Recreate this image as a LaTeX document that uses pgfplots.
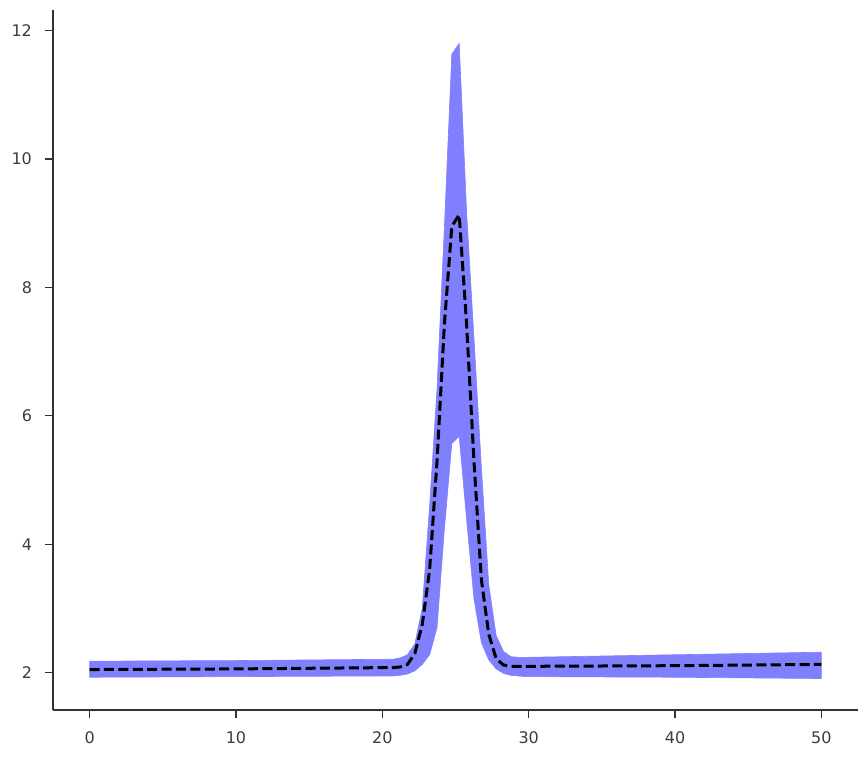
\documentclass[border=0pt]{standalone}
\usepackage{fontspec}
\setmainfont{DejaVu Sans}
\usepackage{pgfplots}
\usepackage{pgfplotstable}
\pgfplotsset{compat=1.18}
\definecolor{bandblue}{RGB}{128,128,255}
\definecolor{spine}{RGB}{51,51,51}
\definecolor{ticktext}{RGB}{60,60,60}
\pgfplotstableread{
x mean
0 2.05
10.101 2.06
20.202 2.08
20.707 2.08
21.212 2.09
21.717 2.13
22.222 2.30
22.727 2.75
23.232 3.60
23.737 5.29
24.242 7.43
24.747 8.95
25.253 9.13
25.758 7.43
26.263 5.29
26.768 3.45
27.273 2.60
27.778 2.22
28.283 2.12
28.788 2.10
29.293 2.10
29.798 2.10
39.899 2.11
50 2.13
}\meantable
% band outline: upper bound left to right, then lower bound right to left
\pgfplotstableread{
x y
0 2.18
10.101 2.19
20.202 2.21
20.707 2.21
21.212 2.23
21.717 2.28
22.222 2.45
22.727 3.00
23.232 4.60
23.737 6.42
24.242 8.94
24.747 11.63
25.253 11.80
25.758 9.18
26.263 7.20
26.768 5.20
27.273 3.37
27.778 2.58
28.283 2.33
28.788 2.25
29.293 2.24
29.798 2.24
39.899 2.28
50 2.32
50 1.91
39.899 1.93
29.798 1.94
29.293 1.95
28.788 1.96
28.283 1.99
27.778 2.06
27.273 2.20
26.768 2.47
26.263 3.15
25.758 4.39
25.253 5.68
24.747 5.57
24.242 4.24
23.737 2.70
23.232 2.28
22.727 2.13
22.222 2.03
21.717 1.98
21.212 1.96
20.707 1.95
20.202 1.95
10.101 1.94
0 1.93
}\bandtable
\begin{document}
\begin{tikzpicture}
\path (-26.5pt,-23pt) rectangle (407.5pt,355pt);
\begin{axis}[
  at={(0,0)}, anchor=south west,
  scale only axis, width=402.5pt, height=350pt,
  xmin=-2.5, xmax=52.5, ymin=1.42, ymax=12.32,
  axis lines=left, axis line style={-, spine, line width=0.6pt},
  xtick={0,10,20,30,40,50}, ytick={2,4,6,8,10,12},
  tick align=outside, major tick length=4pt,
  tick style={spine, line width=0.6pt},
  every tick label/.append style={font=\fontsize{8}{9.6}\selectfont, text=ticktext},
  yticklabel style={xshift=-3pt},
  xticklabel style={yshift=-3.5pt},
  /pgf/number format/assume math mode=true,
]
\addplot[fill=bandblue, draw=bandblue, line width=0.3pt] table[x=x, y=y] {\bandtable} -- cycle;
\addplot[black, line width=1.5pt, dash pattern=on 5pt off 2.2pt] table[x=x, y=mean] {\meantable};
\end{axis}
\end{tikzpicture}
\end{document}
